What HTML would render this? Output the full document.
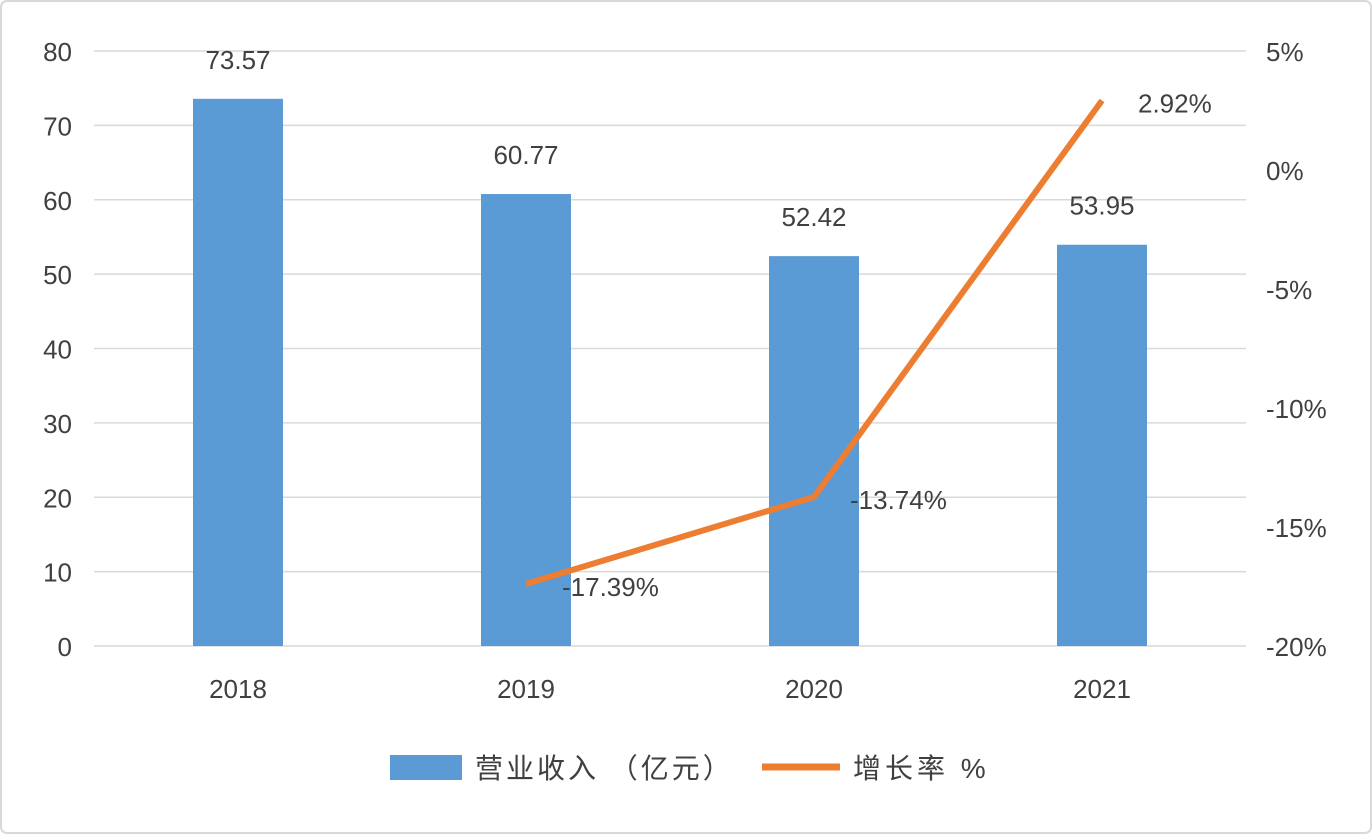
<!DOCTYPE html>
<html><head><meta charset="utf-8"><style>
body{margin:0;background:#fff;}
svg text{font-family:"Liberation Sans","Noto Sans CJK SC",sans-serif;fill:#404040;}
</style></head><body>
<svg width="1372" height="834" xmlns="http://www.w3.org/2000/svg">
<rect x="1" y="1" width="1370" height="832" rx="6" fill="#fff" stroke="#d9d9d9" stroke-width="2"/>
<g id="grid"></g><g id="bars"></g><g id="line"></g><g id="labels"></g>
<g>
<rect x="390" y="755" width="72" height="25" fill="#5b9bd5"/>
<text x="475" y="778" font-size="28" letter-spacing="3">营业收入 （亿元）</text>
<line x1="762" y1="767" x2="840" y2="767" stroke="#ed7d31" stroke-width="7"/>
<text x="853" y="778" font-size="28" letter-spacing="4">增长率 %</text>
</g>
</svg>
<script>
const categories=["2018","2019","2020","2021"];
const revenue=[73.57,60.77,52.42,53.95];
const growth=[null,-17.39,-13.74,2.92];
const leftTicks=[0,10,20,30,40,50,60,70,80];
const rightTicks=[-20,-15,-10,-5,0,5];
const NS="http://www.w3.org/2000/svg";
const x0=94,x1=1246,yb=646,yt=51;
const yL=v=>yb-(v/80)*(yb-yt);
const yR=v=>yb-((v+20)/25)*(yb-yt);
const band=(x1-x0)/categories.length;
const xc=i=>x0+band*(i+0.5);
function mk(tag,attrs,parent,txt){const e=document.createElementNS(NS,tag);for(const k in attrs)e.setAttribute(k,attrs[k]);if(txt!==undefined)e.textContent=txt;document.getElementById(parent).appendChild(e);return e;}
leftTicks.forEach(t=>{
 const l=mk('line',{x1:x0,x2:x1,y1:yL(t),y2:yL(t),stroke:'#d9d9d9','stroke-width':1.5},'grid');
 
 
 const tx=mk('text',{x:72,y:yL(t)+10,'font-size':26,'text-anchor':'end'},'labels',String(t));
 
 
});
rightTicks.forEach(t=>{
 const tx=mk('text',{x:1266,y:yR(t)+10,'font-size':26},'labels',t+'%');
 
 
});
categories.forEach((c,i)=>{
 const b=mk('rect',{x:xc(i)-45,y:yL(revenue[i]),width:90,height:yb-yL(revenue[i]),fill:'#5b9bd5'},'bars');
 
 
 const v=mk('text',{x:xc(i),y:yL(revenue[i])-30,'font-size':26,'text-anchor':'middle'},'labels',revenue[i].toFixed(2));
 
 
 const tx=mk('text',{x:xc(i),y:698,'font-size':26,'text-anchor':'middle'},'labels',c);
 
 
});
const pts=[];growth.forEach((g,i)=>{if(g!==null)pts.push([xc(i),yR(g),g]);});
const pl=mk('polyline',{points:pts.map(p=>p[0]+','+p[1]).join(' '),fill:'none',stroke:'#ed7d31','stroke-width':6,'stroke-linejoin':'round'},'line');


pts.forEach(p=>{
 const tx=mk('text',{x:p[0]+36,y:p[1]+12,'font-size':26},'labels',p[2].toFixed(2)+'%');
 
 
});
</script>
</body></html>
